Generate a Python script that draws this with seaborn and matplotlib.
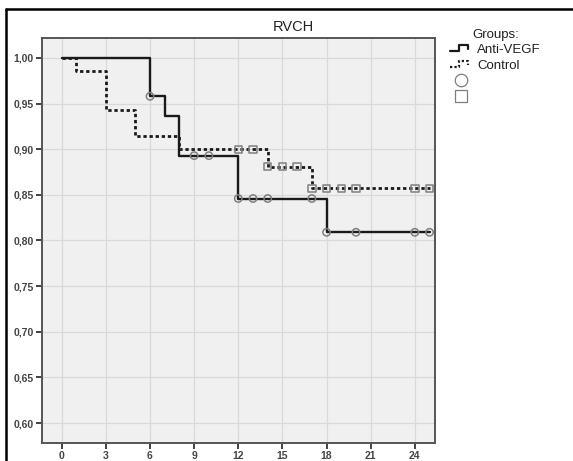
import numpy as np
import pandas as pd
import matplotlib
matplotlib.use("Agg")
import matplotlib.pyplot as plt
from matplotlib.lines import Line2D
from matplotlib.legend_handler import HandlerBase
from matplotlib.ticker import FuncFormatter
import seaborn as sns

# Kaplan-Meier step curves (time in months, cumulative survival)
anti_time = [0, 6, 7, 8, 12, 18, 25]
anti_surv = [1.000, 0.958, 0.936, 0.893, 0.846, 0.809, 0.809]
anti_censored = [6, 9, 10, 12, 13, 14, 17, 18, 20, 24, 25]

ctrl_time = [0, 1, 3, 5, 8, 14, 17, 25]
ctrl_surv = [1.000, 0.986, 0.943, 0.914, 0.900, 0.881, 0.857, 0.857]
ctrl_censored = [12, 13, 14, 15, 16, 17, 18, 19, 20, 24, 25]

group_names = ["Anti-VEGF", "Control"]
x_ticks = [0, 3, 6, 9, 12, 15, 18, 21, 24]
y_ticks = [0.60, 0.65, 0.70, 0.75, 0.80, 0.85, 0.90, 0.95, 1.00]


def surv_at(times, surv, t):
    idx = np.searchsorted(times, t, side="right") - 1
    return surv[idx]


curves = pd.concat([
    pd.DataFrame({"time": anti_time, "surv": anti_surv, "group": group_names[0]}),
    pd.DataFrame({"time": ctrl_time, "surv": ctrl_surv, "group": group_names[1]}),
])
cens = pd.concat([
    pd.DataFrame({"time": anti_censored,
                  "surv": [surv_at(anti_time, anti_surv, t) for t in anti_censored],
                  "group": group_names[0]}),
    pd.DataFrame({"time": ctrl_censored,
                  "surv": [surv_at(ctrl_time, ctrl_surv, t) for t in ctrl_censored],
                  "group": group_names[1]}),
])

sns.set_theme(style="ticks")
plt.rcParams["font.family"] = ["Liberation Sans", "DejaVu Sans"]

W, H = 573, 461
fig = plt.figure(figsize=(W / 100, H / 100), dpi=100)
fig.patch.set_facecolor("white")
ax = fig.add_axes([42 / W, 1 - 443 / H, (435 - 42) / W, (443 - 38) / H])
ax.set_facecolor("#f0f0f0")

# censoring marks first, lines on top
for name, marker in zip(group_names, ["o", "s"]):
    sub = cens[cens["group"] == name]
    sns.scatterplot(data=sub, x="time", y="surv", ax=ax, marker=marker,
                    s=28, facecolor="none", edgecolor="#7f7f7f",
                    linewidth=1.1, zorder=4, legend=False)

styles = {group_names[0]: dict(ls="-", lw=1.7),
          group_names[1]: dict(ls=(0, (1.2, 1.0)), lw=2.0)}
for name in group_names:
    sub = curves[curves["group"] == name]
    sns.lineplot(data=sub, x="time", y="surv", ax=ax, drawstyle="steps-post",
                 color="#1a1a1a", estimator=None, sort=False, zorder=3,
                 linestyle=styles[name]["ls"], linewidth=styles[name]["lw"],
                 legend=False)

ax.set_xlim(-1.34, 25.37)
ax.set_ylim(0.5781, 1.0219)
ax.set_xticks(x_ticks)
ax.set_yticks(y_ticks)
ax.yaxis.set_major_formatter(FuncFormatter(lambda v, p: f"{v:.2f}".replace(".", ",")))
ax.grid(True, color="#d9d9d9", linewidth=0.9)
ax.set_axisbelow(True)
ax.set_xlabel("")
ax.set_ylabel("")
for s in ax.spines.values():
    s.set_color("#555555")
    s.set_linewidth(1.4)
ax.tick_params(axis="both", length=4, width=1.3, color="#333333",
               labelsize=7.5, labelcolor="#444444", pad=2)
for lab in ax.get_xticklabels() + ax.get_yticklabels():
    lab.set_fontweight("bold")

fig.text(293 / W, 1 - 27 / H, "RVCH", ha="center", va="center",
         fontsize=10.5, color="#222222")


class StepHandler(HandlerBase):
    def __init__(self, ls, lw):
        super().__init__()
        self.ls, self.lw = ls, lw

    def create_artists(self, legend, orig_handle, xdescent, ydescent,
                       width, height, fontsize, trans):
        xs = np.array([0.0, 0.38, 0.38, 0.78, 0.78]) * width - xdescent
        ys = np.array([0.2, 0.2, 0.85, 0.85, 0.45]) * height - ydescent
        line = Line2D(xs, ys, color="#1a1a1a", linestyle=self.ls,
                      linewidth=self.lw, transform=trans)
        return [line]


h_anti = Line2D([], [], color="#1a1a1a")
h_ctrl = Line2D([], [], color="#1a1a1a", linestyle=":")
h_circ = Line2D([], [], marker="o", linestyle="none", markersize=9,
                markerfacecolor="none", markeredgecolor="#7f7f7f", markeredgewidth=0.9)
h_sq = Line2D([], [], marker="s", linestyle="none", markersize=9,
              markerfacecolor="none", markeredgecolor="#7f7f7f", markeredgewidth=0.9)

leg = fig.legend([h_anti, h_ctrl, h_circ, h_sq], group_names + ["", ""],
                 title="Groups:", loc="upper left",
                 bbox_to_anchor=(443 / W, 1 - 22 / H),
                 frameon=False, fontsize=9.5, title_fontsize=9.5,
                 handlelength=1.8, handletextpad=0.3, labelspacing=0.26,
                 borderpad=0.0,
                 handler_map={h_anti: StepHandler("-", 1.6),
                              h_ctrl: StepHandler((0, (1.0, 1.0)), 1.6)})
leg._legend_box.align = "center"
for t in leg.get_texts():
    t.set_color("#222222")
leg.get_title().set_color("#222222")

# outer frame of the output panel (top and left edges)
fig.add_artist(Line2D([6 / W, 1.0], [1 - 9 / H, 1 - 9 / H], transform=fig.transFigure,
                      color="black", linewidth=1.8))
fig.add_artist(Line2D([6 / W, 6 / W], [0.0, 1 - 9 / H], transform=fig.transFigure,
                      color="black", linewidth=1.8))

fig.savefig("out.png", dpi=100)
